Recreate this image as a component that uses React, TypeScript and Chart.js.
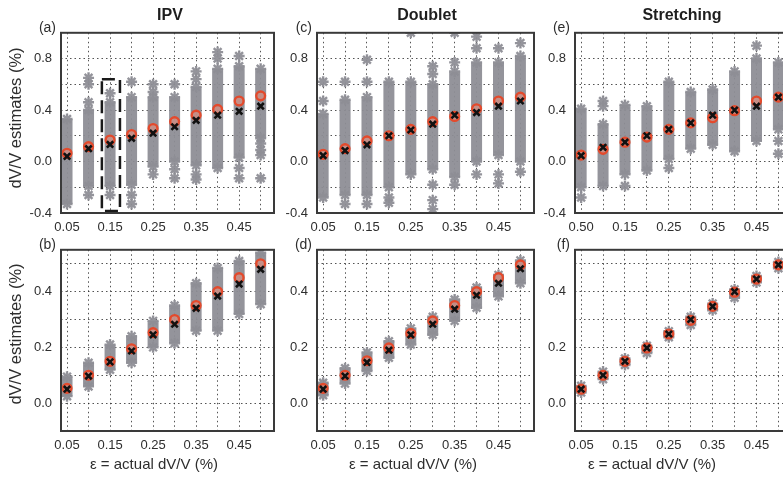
import React, { useEffect, useRef } from 'react';
import { Chart, registerables } from 'chart.js';

Chart.register(...registerables);
Chart.defaults.font.family = '"Liberation Sans", Arial, Helvetica, sans-serif';

// ---------- shared axes ----------
const X_VALUES = [0.05, 0.1, 0.15, 0.2, 0.25, 0.3, 0.35, 0.4, 0.45, 0.5];
const X_TICK_LABELS = ['0.05', '', '0.15', '', '0.25', '', '0.35', '', '0.45', ''];
const X_TICK_LABELS_E = ['0.50', '', '0.15', '', '0.25', '', '0.35', '', '0.45', ''];
const X_MIN = 0.036;
const X_MAX = 0.531;

const TOP_Y_TICKS = [-0.4, -0.2, 0, 0.2, 0.4, 0.6, 0.8, 1.0];
const TOP_Y_LABELS = ['-0.4', '', '0.0', '', '0.4', '', '0.8', ''];
const TOP_Y_MIN = -0.4;
const TOP_Y_MAX = 1.0;

const BOTTOM_Y_TICKS = [-0.1, 0, 0.1, 0.2, 0.3, 0.4, 0.5];
const BOTTOM_Y_LABELS = ['', '0.0', '', '0.2', '', '0.4', ''];
const BOTTOM_Y_MIN = -0.1;
const BOTTOM_Y_MAX = 0.55;

// ---------- (a) IPV, top ----------
const ipvTopLow = [-0.33, -0.19, -0.19, -0.18, -0.04, 0.0, -0.03, -0.05, 0.03, 0.18];
const ipvTopHigh = [0.33, 0.4, 0.46, 0.5, 0.5, 0.5, 0.58, 0.72, 0.74, 0.72];
const ipvTopOutliers = [
  [],
  [0.65, 0.6, 0.46, -0.26],
  [0.53, -0.26],
  [0.62, -0.26, -0.33],
  [0.6, 0.54, -0.1],
  [0.6, -0.06, -0.13],
  [0.7, 0.64, -0.1, -0.14],
  [0.85, 0.8],
  [0.82, -0.05, -0.13],
  [0.14, 0.09, 0.05, -0.13],
];
const ipvTopMean = [0.064, 0.115, 0.167, 0.21, 0.256, 0.31, 0.36, 0.405, 0.47, 0.51];
const ipvTopMedian = [0.04, 0.1, 0.133, 0.18, 0.22, 0.27, 0.32, 0.36, 0.39, 0.43];
const ipvHighlightBox = { x0: 0.131, x1: 0.173, y0: -0.385, y1: 0.64 };

// ---------- (c) Doublet, top ----------
const doubletTopLow = [-0.28, -0.26, -0.26, -0.2, -0.1, -0.06, -0.12, 0.0, 0.05, 0.0];
const doubletTopHigh = [0.37, 0.48, 0.5, 0.62, 0.62, 0.6, 0.7, 0.77, 0.77, 0.82];
const doubletTopOutliers = [
  [0.62, 0.47],
  [0.62, -0.33],
  [0.79, 0.62, -0.33],
  [-0.28, -0.32],
  [1.0],
  [0.74, 0.68, -0.18, -0.3, -0.37],
  [1.0, 0.77, -0.18],
  [0.97, 0.88, -0.1],
  [0.88, -0.1, -0.17],
  [0.92, -0.08],
];
const doubletTopMean = [0.056, 0.1, 0.16, 0.2, 0.25, 0.31, 0.35, 0.41, 0.47, 0.5];
const doubletTopMedian = [0.046, 0.085, 0.13, 0.2, 0.245, 0.29, 0.36, 0.38, 0.43, 0.47];

// ---------- (e) Stretching, top ----------
const stretchTopLow = [-0.2, -0.19, -0.1, -0.07, 0.02, 0.1, 0.13, 0.08, 0.16, 0.25];
const stretchTopHigh = [0.41, 0.29, 0.44, 0.43, 0.62, 0.54, 0.56, 0.7, 0.8, 0.77];
const stretchTopOutliers = [
  [-0.28],
  [0.47, 0.43],
  [-0.19],
  [],
  [-0.05],
  [],
  [],
  [],
  [0.9],
  [0.16, 0.06],
];
const stretchTopMean = [0.05, 0.095, 0.15, 0.19, 0.25, 0.3, 0.34, 0.395, 0.47, 0.5];
const stretchTopMedian = [0.045, 0.11, 0.15, 0.2, 0.25, 0.3, 0.36, 0.4, 0.43, 0.5];

// ---------- (b) IPV, bottom ----------
const ipvBottomLow = [0.025, 0.06, 0.12, 0.145, 0.2, 0.215, 0.26, 0.26, 0.32, 0.355];
const ipvBottomHigh = [0.095, 0.145, 0.21, 0.24, 0.295, 0.35, 0.43, 0.485, 0.51, 0.54];
const ipvBottomMean = [0.053, 0.1, 0.15, 0.195, 0.253, 0.3, 0.35, 0.4, 0.45, 0.5];
const ipvBottomMedian = [0.05, 0.097, 0.148, 0.187, 0.245, 0.283, 0.34, 0.384, 0.427, 0.48];

// ---------- (d) Doublet, bottom ----------
const doubletBottomLow = [0.028, 0.07, 0.115, 0.163, 0.21, 0.245, 0.295, 0.342, 0.383, 0.43];
const doubletBottomHigh = [0.073, 0.125, 0.182, 0.222, 0.268, 0.31, 0.372, 0.415, 0.46, 0.512];
const doubletBottomMean = [0.053, 0.1, 0.152, 0.198, 0.25, 0.295, 0.35, 0.4, 0.45, 0.496];
const doubletBottomMedian = [0.05, 0.097, 0.146, 0.19, 0.245, 0.283, 0.337, 0.387, 0.43, 0.482];

// ---------- (f) Stretching, bottom ----------
const stretchBottomLow = [0.038, 0.086, 0.137, 0.18, 0.236, 0.28, 0.333, 0.378, 0.433, 0.484];
const stretchBottomHigh = [0.062, 0.113, 0.16, 0.206, 0.258, 0.31, 0.357, 0.408, 0.456, 0.506];
const stretchBottomMean = [0.05, 0.1, 0.15, 0.198, 0.248, 0.297, 0.347, 0.398, 0.445, 0.496];
const stretchBottomMedian = [0.05, 0.1, 0.15, 0.198, 0.248, 0.3, 0.347, 0.4, 0.445, 0.496];

// ---------- layout (pixels) ----------
const PAD_L = 56;
const PAD_T = 12;
const PAD_R = 12;
const PAD_B = 36;

const GRAY = 'rgba(142,142,150,0.95)';
const TEXT = '#2e2e2e';
const FONT = '"Liberation Sans", Arial, Helvetica, sans-serif';

type Rect = { l: number; t: number; r: number; b: number };
type Spec = {
  rect: Rect;
  top: boolean;
  xLabels: string[];
  low: number[];
  high: number[];
  outliers: number[][];
  mean: number[];
  median: number[];
  box?: { x0: number; x1: number; y0: number; y1: number };
};

function Panel({ spec }: { spec: Spec }) {
  const ref = useRef<HTMLCanvasElement>(null);
  const { rect } = spec;
  const w = rect.r - rect.l + PAD_L + PAD_R;
  const h = rect.b - rect.t + PAD_T + PAD_B;

  useEffect(() => {
    const yTicks = spec.top ? TOP_Y_TICKS : BOTTOM_Y_TICKS;
    const yLabels = spec.top ? TOP_Y_LABELS : BOTTOM_Y_LABELS;
    const core: any[] = [];
    X_VALUES.forEach((x, i) => {
      core.push({ x, y: spec.low[i] }, { x, y: spec.high[i] }, { x, y: null });
    });
    const stars: any[] = [];
    spec.outliers.forEach((list, i) => list.forEach((y) => stars.push({ x: X_VALUES[i], y })));
    X_VALUES.forEach((x, i) => {
      stars.push({ x, y: spec.low[i] }, { x, y: spec.high[i] });
    });
    const mean = X_VALUES.map((x, i) => ({ x, y: spec.mean[i] }));
    const median = X_VALUES.map((x, i) => ({ x, y: spec.median[i] }));

    const frame = {
      id: 'frame',
      afterDatasetsDraw(chart: any) {
        const { ctx, chartArea } = chart;
        const { left, top, right, bottom } = chartArea;
        ctx.save();
        if (spec.box) {
          const xs = chart.scales.x;
          const ys = chart.scales.y;
          const bx0 = xs.getPixelForValue(spec.box.x0);
          const bx1 = xs.getPixelForValue(spec.box.x1);
          const by0 = ys.getPixelForValue(spec.box.y1);
          const by1 = ys.getPixelForValue(spec.box.y0);
          ctx.strokeStyle = '#1a1a1a';
          ctx.lineWidth = 2.5;
          ctx.setLineDash([13, 6]);
          ctx.strokeRect(bx0, by0, bx1 - bx0, by1 - by0);
          ctx.setLineDash([]);
        }
        ctx.strokeStyle = '#3a3a3a';
        ctx.lineWidth = 2;
        ctx.strokeRect(left, top, right - left, bottom - top);
        ctx.restore();
      },
    };

    const gridOpts = { color: 'rgba(40,40,40,0.8)', lineWidth: 1, drawTicks: false };
    const chart = new Chart(ref.current as HTMLCanvasElement, {
      type: 'scatter',
      data: {
        datasets: [
          {
            data: median,
            pointStyle: 'crossRot',
            pointRadius: 4.5,
            borderColor: '#111',
            backgroundColor: '#111',
            pointBorderWidth: 2.6,
            showLine: false,
          } as any,
          {
            data: mean,
            pointStyle: 'circle',
            pointRadius: 4.4,
            borderColor: 'rgb(228,74,44)',
            backgroundColor: 'rgba(236,140,120,0.55)',
            pointBorderWidth: 2.4,
            showLine: false,
          } as any,
          {
            data: stars,
            pointStyle: 'star',
            pointRadius: 5.5,
            borderColor: GRAY,
            backgroundColor: GRAY,
            pointBorderWidth: 2.4,
            showLine: false,
          } as any,
          {
            data: core,
            showLine: true,
            spanGaps: false,
            pointRadius: 0,
            borderColor: GRAY,
            borderWidth: 11,
            borderCapStyle: 'butt',
          } as any,
        ],
      },
      options: {
        animation: false,
        responsive: false,
        events: [],
        layout: { padding: { top: PAD_T, right: PAD_R, left: 0, bottom: 0 } },
        plugins: { legend: { display: false }, tooltip: { enabled: false }, title: { display: false } },
        scales: {
          x: {
            type: 'linear',
            min: X_MIN,
            max: X_MAX,
            afterFit: (s: any) => {
              s.height = PAD_B;
            },
            afterBuildTicks: (s: any) => {
              s.ticks = X_VALUES.map((v) => ({ value: v }));
            },
            grid: gridOpts,
            border: { display: false, dash: [1.5, 3] },
            ticks: {
              autoSkip: false,
              maxRotation: 0,
              minRotation: 0,
              padding: 7,
              color: TEXT,
              font: { size: 13, family: FONT },
              callback: (_v: any, i: number) => spec.xLabels[i] ?? '',
            },
          } as any,
          y: {
            type: 'linear',
            min: spec.top ? TOP_Y_MIN : BOTTOM_Y_MIN,
            max: spec.top ? TOP_Y_MAX : BOTTOM_Y_MAX,
            afterFit: (s: any) => {
              s.width = PAD_L;
            },
            afterBuildTicks: (s: any) => {
              s.ticks = yTicks.map((v) => ({ value: v }));
            },
            grid: gridOpts,
            border: { display: false, dash: [1.5, 3] },
            ticks: {
              autoSkip: false,
              padding: 9,
              color: TEXT,
              font: { size: 13, family: FONT },
              callback: (_v: any, i: number) => yLabels[i] ?? '',
            },
          } as any,
        },
      },
      plugins: [frame as any],
    });
    return () => chart.destroy();
  }, []);

  return (
    <canvas
      ref={ref}
      width={w}
      height={h}
      style={{
        position: 'absolute', left: rect.l - PAD_L, top: rect.t - PAD_T, width: w, height: h,
        filter: 'blur(0.4px)',
      }}
    />
  );
}

const EMPTY = X_VALUES.map(() => [] as number[]);

const PANELS: { id: string; label: string; spec: Spec }[] = [
  {
    id: 'a', label: '(a)',
    spec: { rect: { l: 61, t: 28, r: 274, b: 213 }, top: true, xLabels: X_TICK_LABELS, low: ipvTopLow, high: ipvTopHigh, outliers: ipvTopOutliers, mean: ipvTopMean, median: ipvTopMedian, box: ipvHighlightBox },
  },
  {
    id: 'c', label: '(c)',
    spec: { rect: { l: 317, t: 28, r: 534, b: 213 }, top: true, xLabels: X_TICK_LABELS, low: doubletTopLow, high: doubletTopHigh, outliers: doubletTopOutliers, mean: doubletTopMean, median: doubletTopMedian },
  },
  {
    id: 'e', label: '(e)',
    spec: { rect: { l: 575, t: 28, r: 792, b: 213 }, top: true, xLabels: X_TICK_LABELS_E, low: stretchTopLow, high: stretchTopHigh, outliers: stretchTopOutliers, mean: stretchTopMean, median: stretchTopMedian },
  },
  {
    id: 'b', label: '(b)',
    spec: { rect: { l: 61, t: 245, r: 274, b: 431 }, top: false, xLabels: X_TICK_LABELS, low: ipvBottomLow, high: ipvBottomHigh, outliers: EMPTY, mean: ipvBottomMean, median: ipvBottomMedian },
  },
  {
    id: 'd', label: '(d)',
    spec: { rect: { l: 317, t: 245, r: 534, b: 431 }, top: false, xLabels: X_TICK_LABELS, low: doubletBottomLow, high: doubletBottomHigh, outliers: EMPTY, mean: doubletBottomMean, median: doubletBottomMedian },
  },
  {
    id: 'f', label: '(f)',
    spec: { rect: { l: 575, t: 245, r: 792, b: 431 }, top: false, xLabels: X_TICK_LABELS, low: stretchBottomLow, high: stretchBottomHigh, outliers: EMPTY, mean: stretchBottomMean, median: stretchBottomMedian },
  },
];

const TITLES = [
  { text: 'IPV', x: 170 },
  { text: 'Doublet', x: 427 },
  { text: 'Stretching', x: 682 },
];
const X_TITLE = 'ε = actual dV/V (%)';
const X_TITLE_CENTERS = [154, 413, 652];
const Y_TITLE = 'dV/V estimates (%)';
const Y_TITLE_CENTERS = [118, 334];

export default function App() {
  return (
    <div
      style={{
        position: 'absolute', left: 0, top: 0, width: 783, height: 480, overflow: 'hidden',
        background: '#fff', fontFamily: FONT, color: TEXT,
      }}
    >
      {PANELS.map((p) => (
        <Panel key={p.id} spec={p.spec} />
      ))}
      {PANELS.map((p) => (
        <div
          key={'lbl' + p.id}
          style={{
            position: 'absolute', left: p.spec.rect.l - 40, width: 35, top: p.spec.rect.t - 9,
            textAlign: 'right', fontSize: 14, lineHeight: '16px',
          }}
        >
          {p.label}
        </div>
      ))}
      {TITLES.map((t) => (
        <div
          key={t.text}
          style={{
            position: 'absolute', left: t.x - 80, width: 160, top: 6, textAlign: 'center',
            fontSize: 16, fontWeight: 'bold', lineHeight: '18px', color: '#1e1e1e',
          }}
        >
          {t.text}
        </div>
      ))}
      {X_TITLE_CENTERS.map((cx, i) => (
        <div
          key={'xt' + i}
          style={{
            position: 'absolute', left: cx - 100, width: 200, top: 455, textAlign: 'center',
            fontSize: 15, lineHeight: '18px',
          }}
        >
          {X_TITLE}
        </div>
      ))}
      {Y_TITLE_CENTERS.map((cy, i) => (
        <div
          key={'yt' + i}
          style={{
            position: 'absolute', left: 15 - 100, top: cy - 9, width: 200, height: 18,
            textAlign: 'center', fontSize: 16.5, lineHeight: '18px', transform: 'rotate(-90deg)',
            transformOrigin: '100px 9px',
          }}
        >
          {Y_TITLE}
        </div>
      ))}
    </div>
  );
}
